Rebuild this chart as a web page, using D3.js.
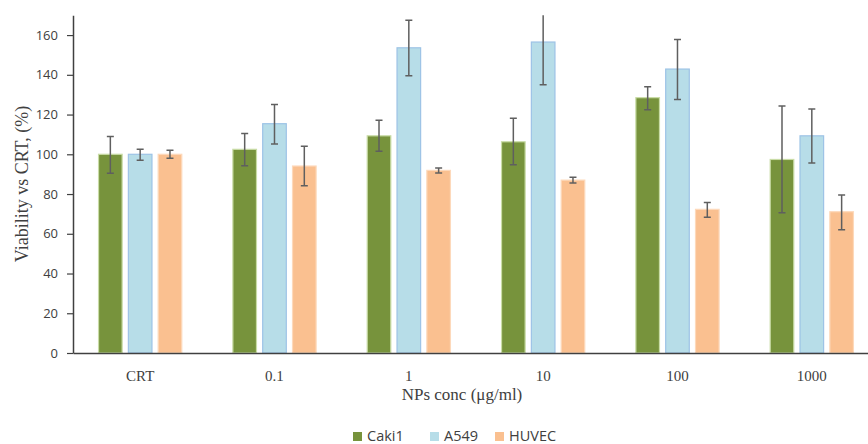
<!DOCTYPE html>
<html>
<head>
<meta charset="utf-8">
<script src="https://cdn.jsdelivr.net/npm/d3@7"></script>
<style>
  html, body { margin: 0; padding: 0; background: #fff; }
  svg { display: block; }
</style>
</head>
<body>
<svg id="chart" width="868" height="444"></svg>
<script>
const categories = ["CRT", "0.1", "1", "10", "100", "1000"];
const seriesNames = ["Caki1", "A549", "HUVEC"];
const caki1 = [100, 102.5, 109.3, 106.3, 128.5, 97.4];
const caki1Lo = [90.4, 94.2, 101.5, 94.7, 122.4, 70.6];
const caki1Hi = [109, 110.5, 117.1, 118.1, 134, 124.3];
const a549 = [100, 115.4, 153.6, 156.5, 142.9, 109.3];
const a549Lo = [97, 105.2, 139.5, 135, 127.6, 95.6];
const a549Hi = [102.5, 125.1, 167.4, 171, 157.8, 122.8];
const huvec = [100, 94.1, 91.9, 87, 72.3, 71.1];
const huvecLo = [98, 84.2, 90.6, 85.5, 68.3, 62];
const huvecHi = [102, 104, 93.1, 88.4, 75.8, 79.5];
const yTicks = [0, 20, 40, 60, 80, 100, 120, 140, 160];
const xTitle = "NPs conc (μg/ml)";
const yTitle = "Viability vs CRT, (%)";

const fills = ["#77933c", "#b7dde8", "#fac090"];
const strokes = ["#c9dca6", "#9dc3e6", "#fdd9bb"];

const svg = d3.select("#chart");
const mLeft = 73, mBottom = 353, mTop = 15.2;

const x0 = d3.scaleBand().domain(categories).range([mLeft, mLeft + 6 * 134.33]).padding(0);
const x1 = d3.scaleBand().domain(seriesNames).range([0, x0.bandwidth()])
  .paddingInner(0.175).paddingOuter(0.84);
const y = d3.scaleLinear().domain([0, 170]).range([mBottom, mTop]);

const defs = svg.append("defs");
defs.append("clipPath").attr("id", "plotclip").append("rect")
  .attr("x", mLeft).attr("y", mTop).attr("width", 868 - mLeft).attr("height", mBottom - mTop + 1);

const data = seriesNames.map((s, i) => ({
  name: s, i,
  vals: [caki1, a549, huvec][i],
  lo: [caki1Lo, a549Lo, huvecLo][i],
  hi: [caki1Hi, a549Hi, huvecHi][i]
}));

const plot = svg.append("g").attr("clip-path", "url(#plotclip)");

// bars
data.forEach(s => {
  plot.append("g").selectAll("rect").data(categories).join("rect")
    .attr("x", (c) => x0(c) + x1(s.name) + 0.5)
    .attr("y", (c, j) => y(s.vals[j]))
    .attr("width", x1.bandwidth() - 1)
    .attr("height", (c, j) => y(0) - y(s.vals[j]))
    .attr("fill", fills[s.i])
    .attr("stroke", strokes[s.i])
    .attr("stroke-width", 1.2);
});

// error bars
data.forEach(s => {
  const g = plot.append("g").attr("stroke", "#5f5f5f").attr("stroke-width", 1.5).attr("fill", "none");
  categories.forEach((c, j) => {
    const cx = x0(c) + x1(s.name) + x1.bandwidth() / 2;
    g.append("line").attr("x1", cx).attr("x2", cx).attr("y1", y(s.lo[j])).attr("y2", y(s.hi[j]));
    [s.lo[j], s.hi[j]].forEach(v => {
      if (v < 170) g.append("line").attr("x1", cx - 3.5).attr("x2", cx + 3.5).attr("y1", y(v)).attr("y2", y(v));
    });
  });
});

// y axis
const yAxis = svg.append("g").attr("transform", `translate(${mLeft},0)`)
  .call(d3.axisLeft(y).tickValues(yTicks).tickSize(6).tickPadding(9).tickSizeOuter(0));
yAxis.select(".domain").attr("stroke", "#404040").attr("stroke-width", 1.5);
yAxis.selectAll(".tick line").attr("stroke", "#404040").attr("stroke-width", 1.2);
yAxis.selectAll(".tick text").attr("fill", "#404040")
  .style("font-family", "'Open Sans', sans-serif").style("font-size", "13px");

// x axis
const xAxis = svg.append("g").attr("transform", `translate(0,${mBottom})`)
  .call(d3.axisBottom(x0).tickSize(0).tickPadding(17).tickSizeOuter(0));
xAxis.select(".domain").attr("stroke", "#404040").attr("stroke-width", 1.5);
xAxis.selectAll(".tick text").attr("fill", "#404040")
  .style("font-family", "'Liberation Serif', 'Times New Roman', serif").style("font-size", "15px");

// titles
svg.append("text").attr("x", 462).attr("y", 400).attr("text-anchor", "middle")
  .attr("fill", "#404040").style("font-family", "'Liberation Serif', serif").style("font-size", "17px")
  .text(xTitle);
svg.append("text").attr("transform", "translate(28,184) rotate(-90)").attr("text-anchor", "middle")
  .attr("fill", "#404040").style("font-family", "'Liberation Serif', serif").style("font-size", "18px")
  .text(yTitle);

// legend
const legendX = [353, 430, 495];
const leg = svg.append("g");
seriesNames.forEach((s, i) => {
  leg.append("rect").attr("x", legendX[i]).attr("y", 432).attr("width", 9).attr("height", 9)
    .attr("fill", fills[i]);
  leg.append("text").attr("x", legendX[i] + 14).attr("y", 441).attr("fill", "#404040")
    .style("font-family", "'Open Sans', sans-serif").style("font-size", "14.5px").text(s);
});
</script>
</body>
</html>
